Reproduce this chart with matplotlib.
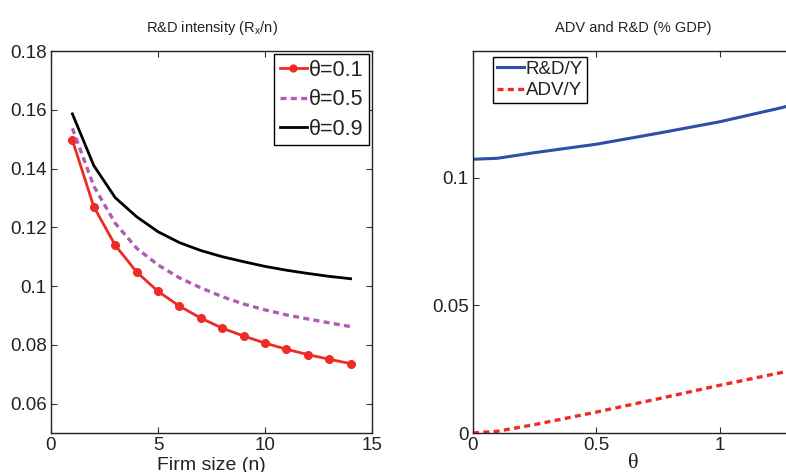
import numpy as np
import matplotlib
matplotlib.use("Agg")
import matplotlib.pyplot as plt
from matplotlib.ticker import FuncFormatter

plt.rcParams['font.family'] = ['Liberation Sans', 'DejaVu Sans']

# firm size grid and R&D intensity for three values of theta
firm_size = [1, 2, 3, 4, 5, 6, 7, 8, 9, 10, 11, 12, 13, 14]
rd_theta01 = [0.1497, 0.1270, 0.1139, 0.1048, 0.0982, 0.0932, 0.0891,
              0.0857, 0.0830, 0.0806, 0.0785, 0.0767, 0.0751, 0.0736]
rd_theta05 = [0.1537, 0.1340, 0.1214, 0.1129, 0.1072, 0.1028, 0.0994,
              0.0964, 0.0939, 0.0919, 0.0902, 0.0888, 0.0875, 0.0862]
rd_theta09 = [0.1586, 0.1410, 0.1301, 0.1236, 0.1185, 0.1148, 0.1121,
              0.1100, 0.1083, 0.1067, 0.1054, 0.1043, 0.1033, 0.1025]

# shares of GDP against theta
theta = [0.0, 0.1, 0.25, 0.5, 0.75, 1.0, 1.25, 1.3]
rd_gdp = [0.1072, 0.1076, 0.1098, 0.1131, 0.1174, 0.1219, 0.1274, 0.1287]
adv_gdp = [0.0, 0.0007, 0.0033, 0.0082, 0.0134, 0.0187, 0.0237, 0.0247]

red = '#EE2B24'
purple = '#B05CB6'
blue = '#2D4FA6'
txt = '#222222'


def g_fmt(v, pos):
    return '%g' % v


def style(ax):
    ax.tick_params(direction='in', length=4, width=0.8, top=True, right=True,
                   labelsize=13.5, colors='#333333', labelcolor=txt, pad=3)
    for s in ax.spines.values():
        s.set_linewidth(1.0)
        s.set_color('#222222')
    ax.xaxis.set_major_formatter(FuncFormatter(g_fmt))
    ax.yaxis.set_major_formatter(FuncFormatter(g_fmt))


def frame(leg):
    leg.get_frame().set_edgecolor('black')
    leg.get_frame().set_linewidth(1.0)
    for t in leg.get_texts():
        t.set_color(txt)


fig = plt.figure(figsize=(7.86, 4.72), dpi=100)
W, H = 786.0, 472.0
ax1 = fig.add_axes([51 / W, (H - 433) / H, 321 / W, 382 / H])
ax2 = fig.add_axes([473 / W, (H - 433) / H, 321 / W, 382 / H])

# left panel
ax1.plot(firm_size, rd_theta01, color=red, lw=2.0, marker='o', ms=5.5,
         label='θ=0.1')
ax1.plot(firm_size, rd_theta05, color=purple, lw=2.4,
         linestyle=(0, (1.8, 1.3)), label='θ=0.5')
ax1.plot(firm_size, rd_theta09, color='black', lw=2.0, label='θ=0.9')
ax1.set_xlim(0, 15)
ax1.set_ylim(0.05, 0.18)
ax1.set_xticks([0, 5, 10, 15])
ax1.set_yticks([0.06, 0.08, 0.1, 0.12, 0.14, 0.16, 0.18])
style(ax1)
ax1.set_title('R&D intensity (R$_\\mathregular{x}$/n)', fontsize=10.5,
              color=txt, pad=14)
ax1.set_xlabel('Firm size (n)', fontsize=14, color=txt, labelpad=2)
leg1 = ax1.legend(loc='upper right', fontsize=15.5, handlelength=1.25,
                  handletextpad=0.1, borderpad=0.25, labelspacing=0.4,
                  borderaxespad=0.15, fancybox=False, framealpha=1,
                  markerscale=0.9)
frame(leg1)

# right panel
ax2.plot(theta, rd_gdp, color=blue, lw=2.2, label='R&D/Y')
ax2.plot(theta, adv_gdp, color=red, lw=2.4, linestyle=(0, (1.8, 1.3)),
         label='ADV/Y')
ax2.set_xlim(0, 1.3)
ax2.set_ylim(0, 0.1496)
ax2.set_xticks([0, 0.5, 1])
ax2.set_yticks([0, 0.05, 0.1])
style(ax2)
ax2.set_title('ADV and R&D (% GDP)', fontsize=10.5, color=txt, pad=14)
ax2.set_xlabel('θ', fontsize=16, color=txt, labelpad=0,
               family=['Liberation Serif', 'DejaVu Serif'])
leg2 = ax2.legend(loc='upper left', fontsize=13.5, handlelength=1.45,
                  handletextpad=0.1, borderpad=0.2, labelspacing=0.25,
                  borderaxespad=0.3, fancybox=False, framealpha=1,
                  bbox_to_anchor=(0.045, 1.0))
frame(leg2)

fig.savefig('out.png', dpi=100)
